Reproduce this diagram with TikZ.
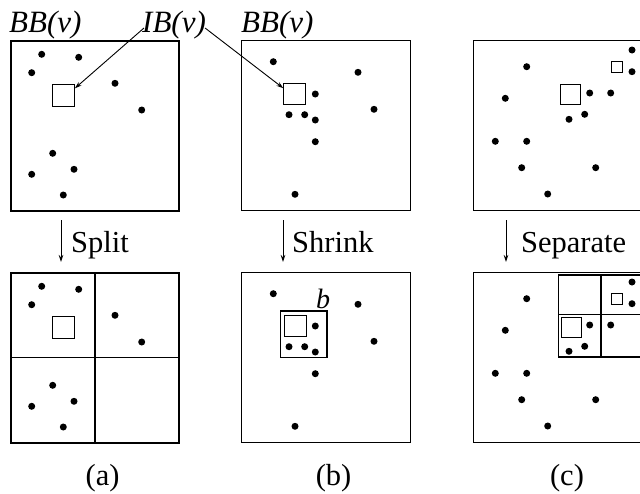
\documentclass[tikz,border=0pt]{standalone}
\usepackage{fontspec}
\setmainfont{Liberation Serif}
\usetikzlibrary{arrows.meta,calc}
\begin{document}
\begin{tikzpicture}[x=1pt,y=-1pt,
  frame/.style={draw,line width=1.2pt},
  grid/.style={draw,line width=1.1pt},
  ibox/.style={draw,line width=1.1pt,inner sep=0pt,anchor=north west,
               minimum width=21.5pt,minimum height=21.5pt},
  sbox/.style={draw,line width=1.0pt,inner sep=0pt,anchor=north west,
               minimum width=11pt,minimum height=11pt},
  lbl/.style={font=\fontsize{30.5}{36}\selectfont,inner sep=0pt},
  ilbl/.style={font=\fontsize{31}{36}\selectfont\itshape,inner sep=0pt},
  conn/.style={line width=0.9pt,-{Stealth[length=7pt,width=4.5pt]}},
]
\useasboundingbox (0,0) rectangle (640,493);

% ---------- column (a): split ----------
\draw[frame] (11,41) rectangle (179,211);
\node[ibox] (sqA) at (52.3,84.3) {};
\foreach \p in {(41.7,54.3),(78.7,57.3),(31.7,72.7),(115,83.3),(141.7,110),
                (52.7,153.3),(31.7,174.3),(74,169.3),(63.3,195)}
  \fill \p circle (3.5pt);

\begin{scope}[shift={(0,232)}]
  \draw[frame] (11,41) rectangle (179,211);
  \draw[grid] (95,41) -- (95,211) (11,125.5) -- (179,125.5);
  \node[ibox] (sqA2) at (52.3,84.3) {};
  \foreach \p in {(41.7,54.3),(78.7,57.3),(31.7,72.7),(115,83.3),(141.7,110),
                  (52.7,153.3),(31.7,174.3),(74,169.3),(63.3,195)}
    \fill \p circle (3.5pt);
\end{scope}

% ---------- column (b): shrink ----------
\draw[frame] (241.7,40.7) rectangle (410.7,210.7);
\node[ibox] (sqB) at (283.3,82.7) {};
\foreach \p in {(273.3,61.7),(358,72.3),(315.3,94),(374,109.3),(289,114.7),
                (304.7,114.7),(315.3,120),(315.3,141.7),(295,194.3)}
  \fill \p circle (3.5pt);

\begin{scope}[shift={(0,232)}]
  \draw[frame] (241.7,40.7) rectangle (410.7,210.7);
  \draw[grid] (280.7,79) rectangle (327,125.3);
  \node[ibox] (sqB2) at (284.3,82.7) {};
  \foreach \p in {(273.3,61.7),(358,72.3),(315.3,94),(374,109.3),(289,114.7),
                  (304.7,114.7),(315.3,120),(315.3,141.7),(295,194.3)}
    \fill \p circle (3.5pt);
\end{scope}
\node[ilbl,font=\fontsize{28}{34}\selectfont\itshape,anchor=base] (blab) at (323,308) {b};

% ---------- column (c): separate ----------
\draw[frame] (473.3,40.7) rectangle (643,210.7);
\node[ibox,minimum width=19.5pt,minimum height=19.5pt] (sqC) at (560.3,84.3) {};
\node[sbox] (sqC1) at (610.7,61.3) {};
\foreach \p in {(632,50),(632,71.7),(526.7,66.7),(505.3,98.3),(589.7,93),
                (610.7,93),(584.7,114.3),(569,119.3),(495.3,141.3),(526.7,141.3),
                (521.7,167.7),(595.7,167.7),(547.7,194)}
  \fill \p circle (3.5pt);

\begin{scope}[shift={(0,232)}]
  \draw[frame] (473.3,40.7) rectangle (643,210.7);
  \draw[grid] (558.7,43) rectangle (643,125) (601,43) -- (601,125) (558.7,82.5) -- (643,82.5);
  \node[ibox,minimum width=19.5pt,minimum height=19.5pt] (sqC2) at (561,85) {};
  \node[sbox] (sqC3) at (610.7,61) {};
  \foreach \p in {(632,50),(632,71.7),(526.7,66.7),(505.3,98.3),(589.7,93),
                  (610.7,93),(584.7,114.3),(569,119.3),(495.3,141.3),(526.7,141.3),
                  (521.7,167.7),(595.7,167.7),(547.7,194)}
    \fill \p circle (3.5pt);
\end{scope}

% ---------- labels on top ----------
\node[ilbl,anchor=base west] (bbA) at (9,32) {BB(v)};
\node[ilbl,anchor=base west] (ib) at (142,32) {IB(v)};
\node[ilbl,anchor=base west] (bbB) at (241,32) {BB(v)};

\draw[conn] ([shift={(2,-4)}]ib.base west) -- ([shift={(0,4)}]sqA.north east);
\draw[conn] ([shift={(-1,-4)}]ib.base east) -- ([shift={(0,5.5)}]sqB.north west);

% ---------- step arrows ----------
\coordinate (sa1) at (61,220);  \coordinate (sa2) at (61,262);
\coordinate (sb1) at (283,220); \coordinate (sb2) at (283,262);
\coordinate (sc1) at (506,220); \coordinate (sc2) at (506,262);
\draw[conn] (sa1) -- (sa2);
\draw[conn] (sb1) -- (sb2);
\draw[conn] (sc1) -- (sc2);
\node[lbl,anchor=base west] (tsplit) at (71,252) {Split};
\node[lbl,anchor=base west] (tshrink) at (292,252) {Shrink};
\node[lbl,anchor=base west] (tsep) at (521,252) {Separate};

% ---------- captions ----------
\node[lbl,anchor=base] (capa) at (102.6,485) {(a)};
\node[lbl,anchor=base] (capb) at (333.6,485) {(b)};
\node[lbl,anchor=base] (capc) at (567,485) {(c)};
\end{tikzpicture}
\end{document}
